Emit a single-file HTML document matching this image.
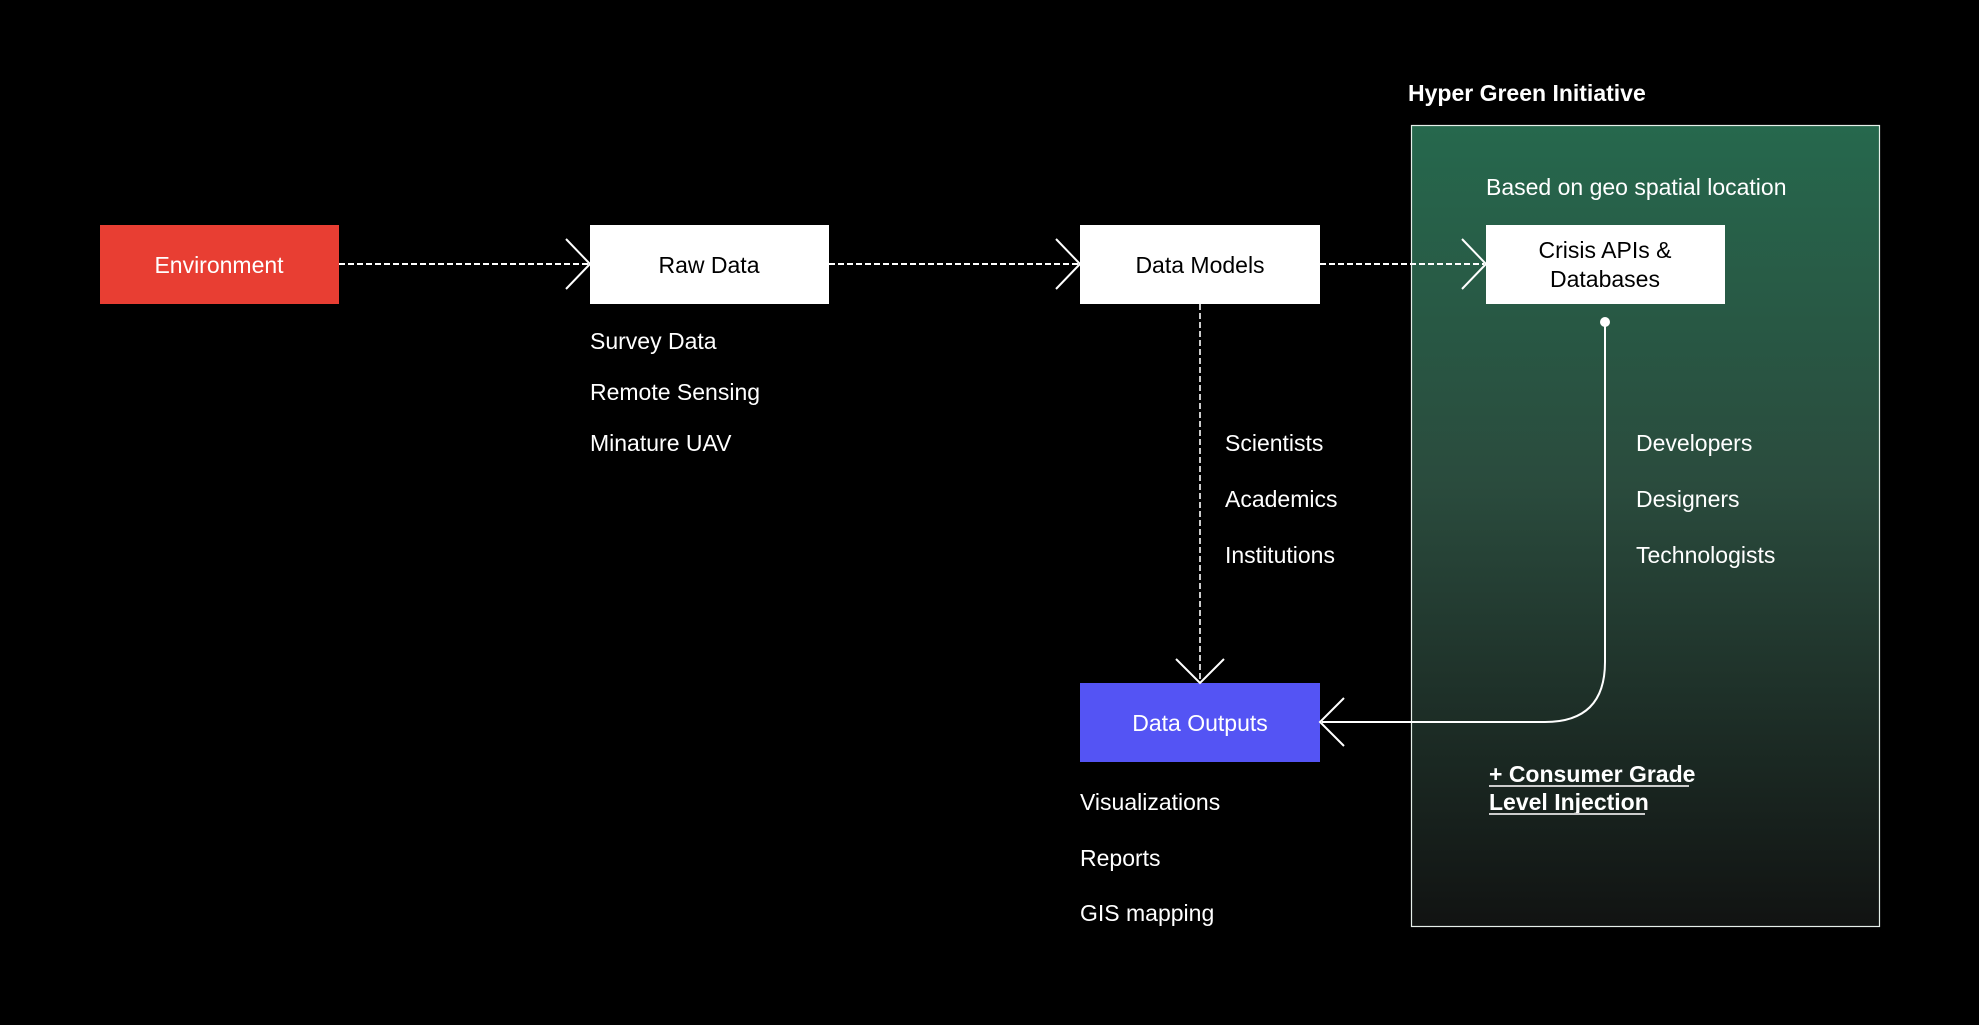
<!DOCTYPE html>
<html><head><meta charset="utf-8"><style>
html,body{margin:0;padding:0;background:#000;}
svg{display:block}
text{font-family:"Liberation Sans",sans-serif;fill:#fff;font-size:23px}
</style></head><body>
<svg width="1979" height="1025" viewBox="0 0 1979 1025" xmlns="http://www.w3.org/2000/svg">
<defs>
<linearGradient id="g" x1="0" y1="0" x2="0" y2="1">
<stop offset="0" stop-color="#26684d"/>
<stop offset="0.45" stop-color="#2a4b3d"/>
<stop offset="1" stop-color="#111312"/>
</linearGradient>
</defs>
<rect width="1979" height="1025" fill="#000"/>
<text x="1408" y="101" font-weight="bold" font-size="22.5">Hyper Green Initiative</text>
<rect x="1411.5" y="125.5" width="468" height="801" fill="url(#g)" stroke="#e6f0ea" stroke-width="1.2"/>
<text x="1486" y="195" font-size="23.5">Based on geo spatial location</text>

<rect x="100" y="225" width="239" height="79" fill="#e83e33"/>
<text x="219" y="273" text-anchor="middle">Environment</text>
<rect x="590" y="225" width="239" height="79" fill="#fff"/>
<text x="709" y="273" text-anchor="middle" style="fill:#000">Raw Data</text>
<rect x="1080" y="225" width="240" height="79" fill="#fff"/>
<text x="1200" y="273" text-anchor="middle" style="fill:#000">Data Models</text>
<rect x="1486" y="225" width="239" height="79" fill="#fff"/>
<text x="1605" y="258" text-anchor="middle" style="fill:#000">Crisis APIs &amp;</text>
<text x="1605" y="287" text-anchor="middle" style="fill:#000">Databases</text>
<rect x="1080" y="683" width="240" height="79" fill="#5454f4"/>
<text x="1200" y="731" text-anchor="middle">Data Outputs</text>

<g stroke="#fff" stroke-width="2" fill="none">
<line x1="339" y1="264" x2="588" y2="264" stroke-dasharray="6,3"/>
<polyline points="566,239 590,264 566,289"/>
<line x1="829" y1="264" x2="1078" y2="264" stroke-dasharray="6,3"/>
<polyline points="1056,239 1080,264 1056,289"/>
<line x1="1320" y1="264" x2="1484" y2="264" stroke-dasharray="6,3"/>
<polyline points="1462,239 1486,264 1462,289"/>
<line x1="1200" y1="304" x2="1200" y2="681" stroke-dasharray="6,3" stroke-width="1.6"/>
<polyline points="1176,659 1200,683 1224,659"/>
<path d="M1605 322 L1605 662 Q1605 722 1545 722 L1322 722"/>
<polyline points="1344,698 1320,722 1344,746"/>
</g>
<circle cx="1605" cy="322" r="5" fill="#fff"/>

<text x="590" y="349">Survey Data</text>
<text x="590" y="400">Remote Sensing</text>
<text x="590" y="451">Minature UAV</text>
<text x="1225" y="451">Scientists</text>
<text x="1225" y="507">Academics</text>
<text x="1225" y="563">Institutions</text>
<text x="1636" y="451">Developers</text>
<text x="1636" y="507">Designers</text>
<text x="1636" y="563">Technologists</text>
<text x="1080" y="810">Visualizations</text>
<text x="1080" y="866">Reports</text>
<text x="1080" y="921">GIS mapping</text>
<text x="1489" y="782" font-weight="bold" font-size="22.5">+ Consumer Grade</text>
<text x="1489" y="810" font-weight="bold" font-size="22.5">Level Injection</text>
<line x1="1489" y1="786" x2="1689" y2="786" stroke="#ccc" stroke-width="2"/>
<line x1="1489" y1="814" x2="1645" y2="814" stroke="#ccc" stroke-width="2"/>
</svg>
</body></html>
